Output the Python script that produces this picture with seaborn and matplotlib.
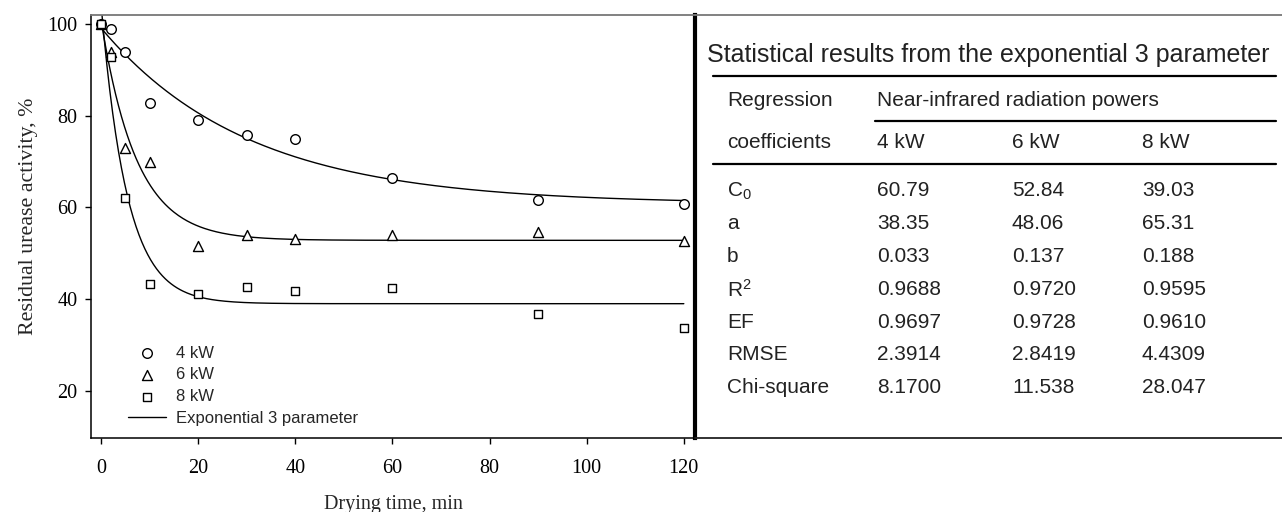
import numpy as np
import pandas as pd
import matplotlib
matplotlib.use("Agg")
import matplotlib.pyplot as plt
import seaborn as sns
from matplotlib.font_manager import FontProperties

# ---------------- data ----------------
time_min = [0, 2, 5, 10, 20, 30, 40, 60, 90, 120]
activity_4kw = [100, 99.0, 93.8, 82.8, 79.1, 75.7, 75.0, 66.4, 61.6, 60.8]
activity_6kw = [100, 93.8, 73.0, 69.9, 51.6, 53.9, 53.2, 54.1, 54.7, 52.6]
activity_8kw = [100, 92.7, 62.0, 43.3, 41.2, 42.6, 41.8, 42.5, 36.8, 33.8]

powers = ["4 kW", "6 kW", "8 kW"]
coef_c0 = [60.79, 52.84, 39.03]
coef_a = [38.35, 48.06, 65.31]
coef_b = [0.033, 0.137, 0.188]
fit_label = "Exponential 3 parameter"

x_ticks = [0, 20, 40, 60, 80, 100, 120]
y_ticks = [20, 40, 60, 80, 100]

table_title = "Statistical results from the exponential 3 parameter"
table_rows = ["C$_{0}$", "a", "b", "R$^{2}$", "EF", "RMSE", "Chi-square"]
table_4kw = ["60.79", "38.35", "0.033", "0.9688", "0.9697", "2.3914", "8.1700"]
table_6kw = ["52.84", "48.06", "0.137", "0.9720", "0.9728", "2.8419", "11.538"]
table_8kw = ["39.03", "65.31", "0.188", "0.9595", "0.9610", "4.4309", "28.047"]

# ---------------- style ----------------
sns.set_style("ticks")
plt.rcParams["font.family"] = ["Liberation Serif", "DejaVu Serif"]
plt.rcParams["mathtext.fontset"] = "custom"
plt.rcParams["mathtext.rm"] = "Liberation Sans"
plt.rcParams["mathtext.it"] = "Liberation Sans"
plt.rcParams["mathtext.default"] = "regular"

W, H = 1282, 512
fig = plt.figure(figsize=(W / 100, H / 100), dpi=100)
fig.patch.set_facecolor("white")

L, R, T, B = 91, 695, 15, 437.5
ax = fig.add_axes([L / W, (H - B) / H, (R - L) / W, (B - T) / H])
ax.set_facecolor("white")

markers = {"4 kW": "o", "6 kW": "^", "8 kW": "s"}
sizes = {"4 kW": 48, "6 kW": 52, "8 kW": 34}

df = pd.DataFrame({"time": time_min * 3,
                   "activity": activity_4kw + activity_6kw + activity_8kw,
                   "power": sum([[p] * len(time_min) for p in powers], [])})

# fitted model curves from the table coefficients
t_fit = np.linspace(0, 120, 400)
for i, p in enumerate(powers):
    y_fit = coef_c0[i] + coef_a[i] * np.exp(-coef_b[i] * t_fit)
    sns.lineplot(x=t_fit, y=y_fit, color="black", linewidth=1.0, ax=ax,
                 label=fit_label if i == 0 else "_nolegend_", zorder=2)

for p in powers:
    sub = df[df["power"] == p]
    sns.scatterplot(data=sub, x="time", y="activity", marker=markers[p],
                    s=sizes[p], color="white", edgecolor="black",
                    linewidth=1.0, ax=ax, label=p, zorder=3)

ax.set_xlim(-2.06, 122.3)
ax.set_ylim(9.86, 101.96)
ax.set_xticks(x_ticks)
ax.set_yticks(y_ticks)
ax.tick_params(axis="both", direction="out", length=4.3, width=1.0,
               labelsize=14.5, colors="black")
ax.tick_params(axis="x", pad=11)
ax.tick_params(axis="y", pad=5.5)
for lab in ax.get_xticklabels() + ax.get_yticklabels():
    lab.set_fontfamily("Liberation Serif")

ax.set_xlabel("Drying time, min", fontsize=14.5, fontfamily="Liberation Serif")
ax.set_ylabel("Residual urease activity, %", fontsize=15.8,
              fontfamily="Liberation Serif")
ax.xaxis.set_label_coords(0.5, -0.135)
ax.yaxis.set_label_coords(-0.088, 0.524)

for s in ["left", "bottom"]:
    ax.spines[s].set_color("black")
    ax.spines[s].set_linewidth(1.1)
ax.spines["top"].set_color("#777777")
ax.spines["top"].set_linewidth(1.3)
ax.spines["right"].set_color("black")
ax.spines["right"].set_linewidth(3.0)

handles, labels = ax.get_legend_handles_labels()
hmap = dict(zip(labels, handles))
order = powers + [fit_label]
ax.legend([hmap[k] for k in order], order, loc="lower left",
          bbox_to_anchor=(0.061, 0.028), frameon=False,
          prop=FontProperties(family="Liberation Sans", size=12),
          borderpad=0, borderaxespad=0, labelspacing=0.4,
          handlelength=2.3, handletextpad=0.6)

# ---------------- table panel ----------------
axt = fig.add_axes([0, 0, 1, 1])
axt.set_xlim(0, W)
axt.set_ylim(H, 0)
axt.axis("off")
axt.patch.set_alpha(0)

sans = "Liberation Sans"
tcol = "#222222"
fs = 15
# box borders
axt.plot([R, W], [T, T], color="#777777", lw=1.3)
axt.plot([R, W], [B, B], color="#222222", lw=1.3)

x_lab, x_c1, x_c2, x_c3 = 727, 877, 1012, 1142
line_l, line_r = 713, 1276

axt.text(707, 55, table_title, fontsize=18, family=sans, color=tcol,
         va="center", ha="left")
axt.plot([line_l, line_r], [76, 76], color="black", lw=1.6)
axt.text(x_lab, 100, "Regression", fontsize=fs, family=sans, color=tcol,
         va="center")
axt.text(x_c1, 100, "Near-infrared radiation powers", fontsize=fs,
         family=sans, color=tcol, va="center")
axt.plot([x_c1 - 2, line_r], [121, 121], color="black", lw=1.6)
axt.text(x_lab, 143, "coefficients", fontsize=fs, family=sans, color=tcol,
         va="center")
for xc, p in zip([x_c1, x_c2, x_c3], powers):
    axt.text(xc, 143, p, fontsize=fs, family=sans, color=tcol, va="center")
axt.plot([line_l, line_r], [164, 164], color="black", lw=1.6)

row_y0, row_dy = 191, 32.8
for i, name in enumerate(table_rows):
    yy = row_y0 + i * row_dy
    axt.text(x_lab, yy, name, fontsize=fs, family=sans, color=tcol,
             va="center")
    for xc, col in zip([x_c1, x_c2, x_c3], [table_4kw, table_6kw, table_8kw]):
        axt.text(xc, yy, col[i], fontsize=fs, family=sans, color=tcol,
                 va="center")

fig.savefig("out.png", dpi=100, facecolor="white")
